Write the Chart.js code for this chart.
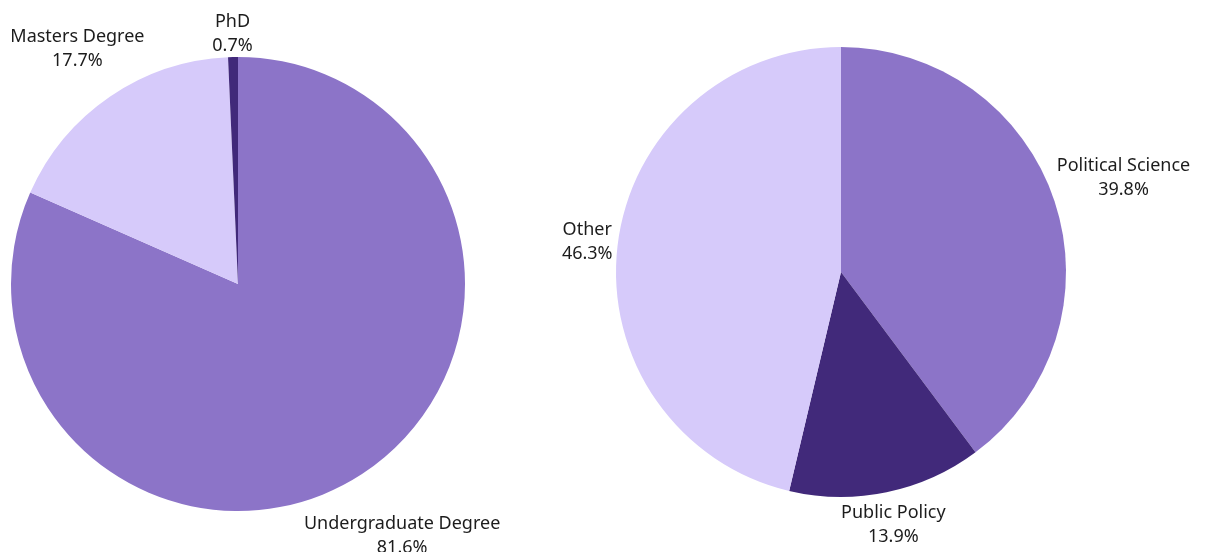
<!DOCTYPE html>
<html>
<head>
<meta charset="utf-8">
<script src="https://cdn.jsdelivr.net/npm/chart.js@4.4.1/dist/chart.umd.min.js"></script>
<style>
  html, body { margin: 0; padding: 0; background: #fff; }
  #wrap { position: relative; width: 1209px; height: 552px; overflow: hidden; }
  .box { position: absolute; left: 0; top: 0; width: 1209px; height: 552px; }
</style>
</head>
<body>
<div id="wrap">
  <div class="box"><canvas id="degreeChart"></canvas></div>
  <div class="box"><canvas id="fieldChart"></canvas></div>
</div>
<script>
const degreeLabels = ["Undergraduate Degree", "Masters Degree", "PhD"];
const degreeValues = [81.6, 17.7, 0.7];
const fieldLabels = ["Political Science", "Public Policy", "Other"];
const fieldValues = [39.8, 13.9, 46.3];

const MID = "#8C74C8";
const LIGHT = "#D6CAFA";
const DARK = "#41297A";

const FONT = '18px "Noto Sans", "Open Sans", sans-serif';
const LINE_H = 24;

// name + percent outside each slice, box pushed just clear of the rim
const outsideLabels = {
  id: "outsideLabels",
  afterDraw(chart) {
    const ctx = chart.ctx;
    const meta = chart.getDatasetMeta(0);
    const labels = chart.data.labels;
    const values = chart.data.datasets[0].data;
    ctx.save();
    ctx.font = FONT;
    ctx.fillStyle = "#1c1c1c";
    ctx.textAlign = "center";
    ctx.textBaseline = "middle";
    meta.data.forEach((arc, i) => {
      const p = arc.getProps(["x", "y", "startAngle", "endAngle", "outerRadius"], true);
      const mid = (p.startAngle + p.endAngle) / 2;
      const ux = Math.cos(mid), uy = Math.sin(mid);
      const lines = [labels[i], values[i].toFixed(1) + "%"];
      const w = Math.max(...lines.map(t => ctx.measureText(t).width)) / 2;
      const h = 20;
      const d = p.outerRadius + 3 + Math.abs(ux) * w + Math.abs(uy) * h;
      const cx = p.x + ux * d, cy = p.y + uy * d;
      ctx.fillText(lines[0], cx, cy - LINE_H / 2);
      ctx.fillText(lines[1], cx, cy + LINE_H / 2);
    });
    ctx.restore();
  }
};

function makePie(id, labels, values, colors, padding) {
  return new Chart(document.getElementById(id), {
    type: "pie",
    data: {
      labels: labels,
      datasets: [{
        data: values,
        backgroundColor: colors,
        borderWidth: 0,
      }],
    },
    options: {
      responsive: true,
      maintainAspectRatio: false,
      animation: false,
      events: [],
      layout: { padding: padding },
      plugins: {
        legend: { display: false },
        tooltip: { enabled: false },
      },
    },
    plugins: [outsideLabels],
  });
}

makePie("degreeChart", degreeLabels, degreeValues, [MID, LIGHT, DARK],
  { left: 11, right: 744, top: 57, bottom: 41 });
makePie("fieldChart", fieldLabels, fieldValues, [MID, DARK, LIGHT],
  { left: 616, right: 143, top: 47, bottom: 55 });
</script>
</body>
</html>
